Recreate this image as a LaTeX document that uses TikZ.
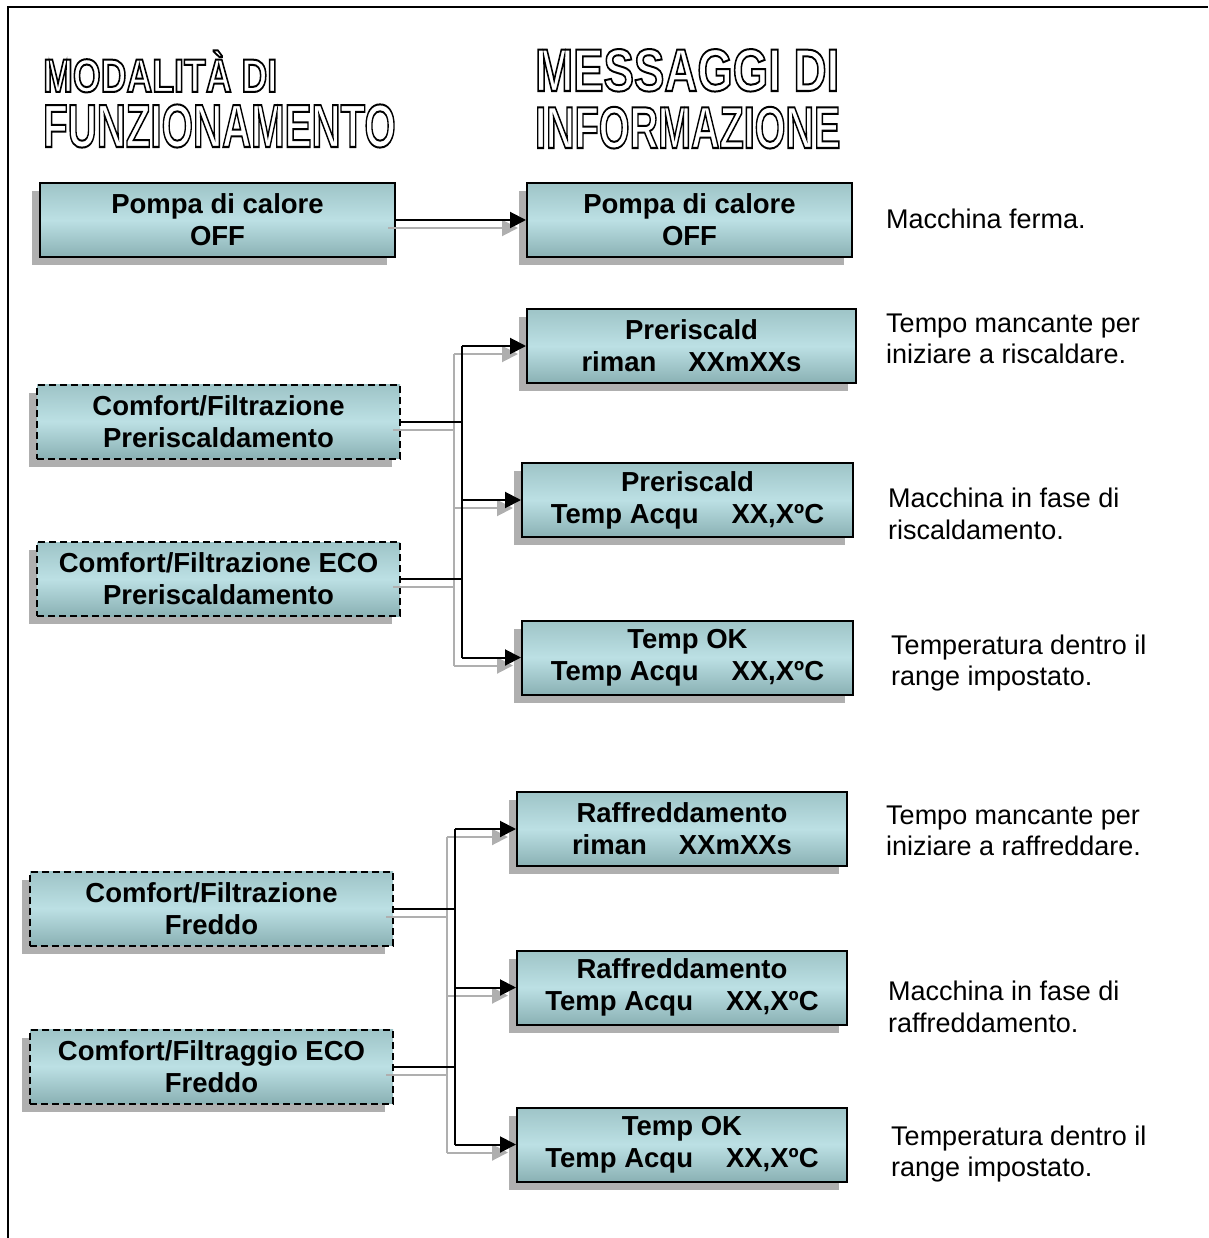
\documentclass[tikz,border=0pt]{standalone}
\usepackage{fontspec}
\setmainfont{Liberation Sans}
\usetikzlibrary{arrows.meta,shadows,calc}

% hollow (outlined) lettering for the column headings
\newcommand\hollowtext[1]{\special{pdf:literal direct 2 w 1 Tr}#1\special{pdf:literal direct 0 Tr}}

\definecolor{panelTop}{RGB}{158,196,199}
\definecolor{panelMid}{RGB}{188,224,228}
\definecolor{panelBot}{RGB}{138,177,180}
\definecolor{shadowGray}{RGB}{175,175,175}

\begin{document}
\begin{tikzpicture}[x=1pt,y=-1pt,
  every node/.style={inner sep=0pt},
  heading/.style={anchor=base west, font=\bfseries},
  panel/.style={font=\fontsize{27.5}{32}\selectfont\bfseries, align=center,
    draw=black, line width=2pt, minimum height=74pt, minimum width=#1,
    top color=panelTop, bottom color=panelBot, middle color=panelMid,
    general shadow={shadow xshift=-8pt, shadow yshift=-8pt, fill=shadowGray, draw=none}},
  modebox/.style={panel=#1, dash pattern=on 7pt off 4pt},
  note/.style={anchor=west, align=left, font=\fontsize{27}{31.5}\selectfont},
  link/.style={draw=black, line width=2pt},
  linkarrow/.style={link, -{Triangle[length=16pt,width=16pt]}},
  ghost/.style={draw=shadowGray, line width=2pt},
  ghostarrow/.style={ghost, -{Triangle[length=16pt,width=16pt,fill=shadowGray]}}
]
\useasboundingbox (0,0) rectangle (1208,1238);

% frame
\draw[line width=2.5pt] (8,1238) -- (8,7) -- (1208,7);

% column headings
\node[heading, xscale=0.76, font=\fontsize{47}{47}\selectfont\bfseries] (h1a) at (43,92) {\hollowtext{MODALITÀ DI}};
\node[heading, xscale=0.66, font=\fontsize{61}{61}\selectfont\bfseries] (h1b) at (43,147) {\hollowtext{FUNZIONAMENTO}};
\node[heading, xscale=0.76, font=\fontsize{60}{60}\selectfont\bfseries] (h2a) at (535,91) {\hollowtext{MESSAGGI DI}};
\node[heading, xscale=0.67, font=\fontsize{59}{59}\selectfont\bfseries] (h2b) at (535,148) {\hollowtext{INFORMAZIONE}};

% operating modes
\node[panel=355pt] (L1) at (217.5,220) {Pompa di calore\\OFF};
\node[modebox=363pt] (L2) at (218.5,421.5) {Comfort/Filtrazione\\Preriscaldamento};
\node[modebox=363pt] (L3) at (218.5,579) {Comfort/Filtrazione ECO\\Preriscaldamento};
\node[modebox=363pt] (L4) at (211.5,908.5) {Comfort/Filtrazione\\Freddo};
\node[modebox=363pt] (L5) at (211.5,1066.5) {Comfort/Filtraggio ECO\\Freddo};

% display messages
\node[panel=325pt] (R1) at (689.5,220) {Pompa di calore\\OFF};
\node[panel=329pt] (R2) at (691.5,346) {Preriscald\\riman\hspace{32pt}XXmXXs};
\node[panel=331pt] (R3) at (687.5,500) {Preriscald\\Temp Acqu\hspace{33pt}XX,XºC};
\node[panel=331pt] (R4) at (687.5,657.5) {Temp OK\\Temp Acqu\hspace{33pt}XX,XºC};
\node[panel=330pt] (R5) at (682,829) {Raffreddamento\\riman\hspace{32pt}XXmXXs};
\node[panel=330pt] (R6) at (682,987.5) {Raffreddamento\\Temp Acqu\hspace{33pt}XX,XºC};
\node[panel=330pt] (R7) at (682,1144.5) {Temp OK\\Temp Acqu\hspace{33pt}XX,XºC};

% descriptions
\node[note] (d1) at (886,219) {Macchina ferma.};
\node[note] (d2) at (886,339) {Tempo mancante per\\iniziare a riscaldare.};
\node[note] (d3) at (888,514) {Macchina in fase di\\riscaldamento.};
\node[note] (d4) at (891,663) {Temperatura dentro il\\range impostato.};
\node[note] (d5) at (886,831) {Tempo mancante per\\iniziare a raffreddare.};
\node[note] (d6) at (888,1007) {Macchina in fase di\\raffreddamento.};
\node[note] (d7) at (891,1154) {Temperatura dentro il\\range impostato.};

% bus positions
\coordinate (busA) at (462,0);
\coordinate (busB) at (455,0);

% connector shadows
\begin{scope}[transform canvas={shift={(-8pt,-8pt)}}]
  \draw[ghostarrow] (L1.east) -- (R1.west);
  \draw[ghost] (L2.east) -- (busA |- L2.east);
  \draw[ghost] (L3.east) -- (busA |- L3.east);
  \draw[ghost] (busA |- R2.west) -- (busA |- R4.west);
  \draw[ghostarrow] (busA |- R2.west) -- (R2.west);
  \draw[ghostarrow] (busA |- R3.west) -- (R3.west);
  \draw[ghostarrow] (busA |- R4.west) -- (R4.west);
  \draw[ghost] (L4.east) -- (busB |- L4.east);
  \draw[ghost] (L5.east) -- (busB |- L5.east);
  \draw[ghost] (busB |- R5.west) -- (busB |- R7.west);
  \draw[ghostarrow] (busB |- R5.west) -- (R5.west);
  \draw[ghostarrow] (busB |- R6.west) -- (R6.west);
  \draw[ghostarrow] (busB |- R7.west) -- (R7.west);
\end{scope}

% connectors
\draw[linkarrow] (L1.east) -- (R1.west);
\draw[link] (L2.east) -- (busA |- L2.east);
\draw[link] (L3.east) -- (busA |- L3.east);
\draw[link] (busA |- R2.west) -- (busA |- R4.west);
\draw[linkarrow] (busA |- R2.west) -- (R2.west);
\draw[linkarrow] (busA |- R3.west) -- (R3.west);
\draw[linkarrow] (busA |- R4.west) -- (R4.west);
\draw[link] (L4.east) -- (busB |- L4.east);
\draw[link] (L5.east) -- (busB |- L5.east);
\draw[link] (busB |- R5.west) -- (busB |- R7.west);
\draw[linkarrow] (busB |- R5.west) -- (R5.west);
\draw[linkarrow] (busB |- R6.west) -- (R6.west);
\draw[linkarrow] (busB |- R7.west) -- (R7.west);
\end{tikzpicture}
\end{document}
